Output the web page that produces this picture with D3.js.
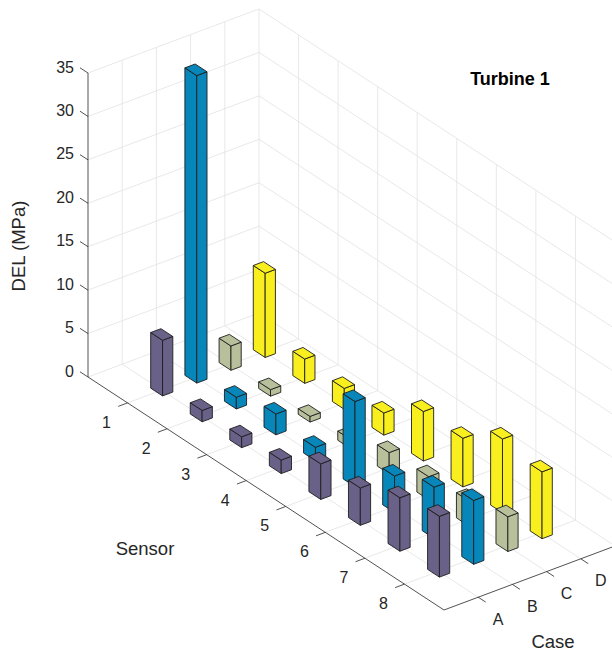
<!DOCTYPE html>
<html><head><meta charset="utf-8">
<script src="https://cdn.jsdelivr.net/npm/d3@7"></script>
<style>
body{margin:0;background:#fff}
svg{display:block}
text{font-family:"Liberation Sans",Arial,Helvetica,sans-serif;fill:#262626}
</style>
</head><body>
<svg id="chart" width="612" height="652"></svg>
<script>
// ---- data ----
const sensors = [1, 2, 3, 4, 5, 6, 7, 8];
const cases = ["A", "B", "C", "D"];
const caseA = [6.4, 1.3, 1.25, 1.55, 4.1, 4.3, 6.15, 7.0];
const caseB = [35.4, 1.35, 2.4, 1.55, 9.8, 4.2, 5.9, 7.35];
const caseC = [2.8, 0.75, 0.65, 1.05, 2.45, 2.65, 2.9, 4.0];
const caseD = [9.7, 2.8, 2.4, 2.55, 5.7, 5.6, 8.5, 7.7];
const zTicks = [0, 5, 10, 15, 20, 25, 30, 35];
const seriesValues = [caseA, caseB, caseC, caseD];

// ---- style ----
const colors = ["#696187", "#0786ba", "#b8bf9b", "#f9ee1e"];
const gridColor = "#e2e2e2";
const axisColor = "#262626";

const svg = d3.select("#chart");

// ---- 3D projection through linear scales ----
const sensorDomain = [0, 9], caseDomain = [0, 5], zDomain = [0, 35];
const sx = d3.scaleLinear().domain(sensorDomain).range([0, 356]);
const sy = d3.scaleLinear().domain(sensorDomain).range([0, 233]);
const cx = d3.scaleLinear().domain(caseDomain).range([0, 171]);
const cy = d3.scaleLinear().domain(caseDomain).range([0, -64]);
const zy = d3.scaleLinear().domain(zDomain).range([377, 73]);
const X0 = 88;
function P(s, c, z) { return [X0 + sx(s) + cx(c), zy(z) + sy(s) + cy(c)]; }

const line = d3.line();
const sMin = sensorDomain[0], sMax = sensorDomain[1];
const cMin = caseDomain[0], cMax = caseDomain[1];
const zMin = zDomain[0], zMax = zDomain[1];

// ---- grid ----
const grid = [];
sensors.forEach(s => {
  grid.push([P(s, cMin, zMin), P(s, cMax, zMin)]);   // floor
  grid.push([P(s, cMax, zMin), P(s, cMax, zMax)]);   // back wall vertical
});
cases.forEach((k, i) => {
  const c = i + 1;
  grid.push([P(sMin, c, zMin), P(sMax, c, zMin)]);   // floor
  grid.push([P(sMin, c, zMin), P(sMin, c, zMax)]);   // left wall vertical
});
zTicks.forEach(z => {
  grid.push([P(sMin, cMin, z), P(sMin, cMax, z)]);
  grid.push([P(sMin, cMax, z), P(sMax, cMax, z)]);
});
grid.push([P(sMin, cMax, zMin), P(sMin, cMax, zMax)]);

svg.append("g").selectAll("path").data(grid).join("path")
  .attr("d", d => line(d)).attr("fill", "none")
  .attr("stroke", gridColor).attr("stroke-width", 0.8);

// ---- axes ----
const axes = [
  [P(sMin, cMin, zMin), P(sMin, cMin, zMax)],
  [P(sMin, cMin, zMin), P(sMax, cMin, zMin)],
  [P(sMax, cMin, zMin), P(sMax, cMax, zMin)]
];
svg.append("g").selectAll("path").data(axes).join("path")
  .attr("d", d => line(d)).attr("fill", "none")
  .attr("stroke", axisColor).attr("stroke-width", 0.8);

// z ticks
const zAxis = svg.append("g");
zTicks.forEach(z => {
  const p = P(sMin, cMin, z);
  zAxis.append("path").attr("d", line([p, [p[0] - 8, p[1] - 5.2]]))
    .attr("stroke", axisColor).attr("stroke-width", 0.8);
  zAxis.append("text").attr("x", p[0] - 14).attr("y", p[1] - 6)
    .attr("text-anchor", "end").attr("dominant-baseline", "central")
    .attr("font-size", 16).text(z);
});
// sensor ticks
const sAxis = svg.append("g");
sensors.forEach(s => {
  const p = P(s, cMin, zMin);
  sAxis.append("path").attr("d", line([p, [p[0] - 9.3, p[1] + 3.5]]))
    .attr("stroke", axisColor).attr("stroke-width", 0.8);
  sAxis.append("text").attr("x", p[0] - 21).attr("y", p[1] + 19.5)
    .attr("text-anchor", "middle").attr("dominant-baseline", "central")
    .attr("font-size", 16).text(s);
});
// case ticks
const cAxis = svg.append("g");
cases.forEach((k, i) => {
  const p = P(sMax, i + 1, zMin);
  cAxis.append("path").attr("d", line([p, [p[0] + 7.5, p[1] + 4.9]]))
    .attr("stroke", axisColor).attr("stroke-width", 0.8);
  cAxis.append("text").attr("x", p[0] + 20).attr("y", p[1] + 22)
    .attr("text-anchor", "middle").attr("dominant-baseline", "central")
    .attr("font-size", 16).text(k);
});

// ---- bars ----
const hw = 0.15;
const bars = [];
seriesValues.forEach((vals, i) => {
  vals.forEach((v, j) => bars.push({ s: sensors[j], c: i + 1, v, color: colors[i] }));
});
bars.sort((a, b) => (a.s - b.s) || (b.c - a.c));

const barG = svg.append("g").selectAll("g").data(bars).join("g");
barG.each(function (d) {
  const g = d3.select(this);
  const { s, c, v } = d;
  const faces = [
    [P(s - hw, c - hw, 0), P(s + hw, c - hw, 0), P(s + hw, c - hw, v), P(s - hw, c - hw, v)],
    [P(s + hw, c - hw, 0), P(s + hw, c + hw, 0), P(s + hw, c + hw, v), P(s + hw, c - hw, v)],
    [P(s - hw, c - hw, v), P(s + hw, c - hw, v), P(s + hw, c + hw, v), P(s - hw, c + hw, v)]
  ];
  g.selectAll("path").data(faces).join("path")
    .attr("d", f => line(f) + "Z")
    .attr("fill", d.color)
    .attr("stroke", "#1e1e1e").attr("stroke-width", 0.9)
    .attr("stroke-linejoin", "round");
});

// ---- titles ----
svg.append("text").attr("x", 510).attr("y", 79)
  .attr("text-anchor", "middle").attr("dominant-baseline", "central")
  .attr("font-size", 18).attr("font-weight", "bold").style("fill", "#000")
  .text("Turbine 1");
svg.append("text").attr("transform", "translate(18,246) rotate(-90)")
  .attr("text-anchor", "middle").attr("dominant-baseline", "central")
  .attr("font-size", 18.5).text("DEL (MPa)");
svg.append("text").attr("x", 145).attr("y", 548)
  .attr("text-anchor", "middle").attr("dominant-baseline", "central")
  .attr("font-size", 18.5).text("Sensor");
svg.append("text").attr("x", 553).attr("y", 641)
  .attr("text-anchor", "middle").attr("dominant-baseline", "central")
  .attr("font-size", 18.5).text("Case");
</script>
</body></html>
